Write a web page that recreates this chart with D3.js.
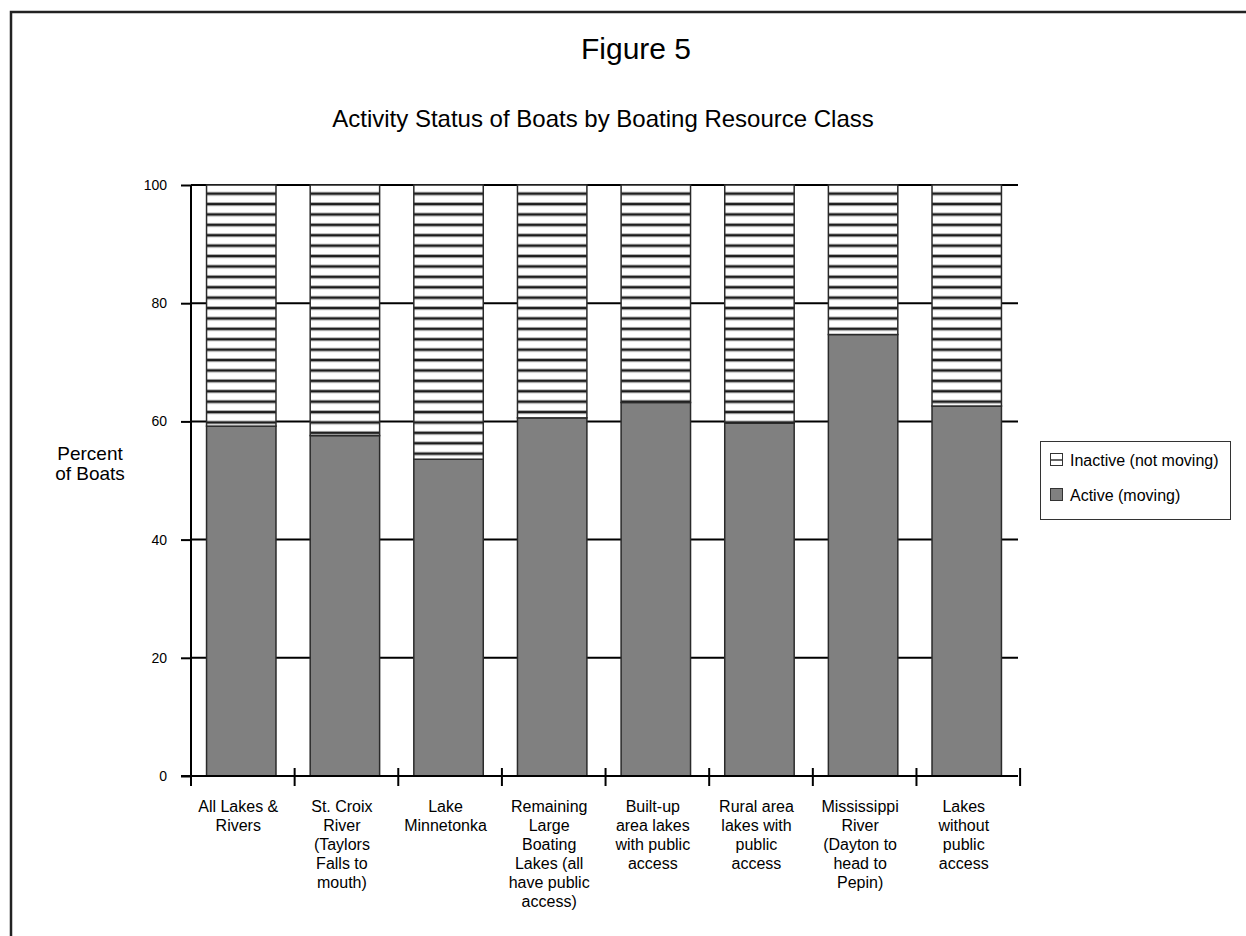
<!DOCTYPE html>
<html>
<head>
<meta charset="utf-8">
<script src="https://cdn.jsdelivr.net/npm/d3@7"></script>
<style>
  html, body { margin: 0; padding: 0; background: #fff; }
  svg { display: block; font-family: "Liberation Sans", Arial, Helvetica, sans-serif; }
</style>
</head>
<body>
<svg id="chart" width="1246" height="936"></svg>
<script>
// Resource classes (each label split into its printed lines)
const categories = [
  ["All Lakes &", "Rivers"],
  ["St. Croix", "River", "(Taylors", "Falls to", "mouth)"],
  ["Lake", "Minnetonka"],
  ["Remaining", "Large", "Boating", "Lakes (all", "have public", "access)"],
  ["Built-up", "area lakes", "with public", "access"],
  ["Rural area", "lakes with", "public", "access"],
  ["Mississippi", "River", "(Dayton to", "head to", "Pepin)"],
  ["Lakes", "without", "public", "access"]
];
// Percent of boats moving in each class
const activeValues = [59.2, 57.6, 53.6, 60.6, 63.2, 59.7, 74.7, 62.6];
// Percent of boats not moving
const inactiveValues = [40.8, 42.4, 46.4, 39.4, 36.8, 40.3, 25.3, 37.4];
const yTicks = [0, 20, 40, 60, 80, 100];
const seriesNames = ["Inactive (not moving)", "Active (moving)"];

const svg = d3.select("#chart");

// Outer frame
svg.append("rect")
  .attr("x", 11).attr("y", 12).attr("width", 1300).attr("height", 1000)
  .attr("fill", "none").attr("stroke", "#222").attr("stroke-width", 2.5);

// Horizontal hatch for the inactive segments
const defs = svg.append("defs");
const hatch = defs.append("pattern")
  .attr("id", "hatch").attr("patternUnits", "userSpaceOnUse")
  .attr("x", 0).attr("y", 181.3).attr("width", 8).attr("height", 10.4);
hatch.append("rect").attr("width", 8).attr("height", 10.4).attr("fill", "#fff");
hatch.append("rect").attr("y", 0).attr("width", 8).attr("height", 4).attr("fill", "#a8a8a8");
hatch.append("rect").attr("y", 1).attr("width", 8).attr("height", 2).attr("fill", "#1a1a1a");

const x = d3.scaleBand()
  .domain(d3.range(categories.length))
  .range([191, 1017])
  .paddingInner(0.33)
  .paddingOuter(0.15);

const y = d3.scaleLinear().domain([0, 100]).range([776, 185]);

// Titles
svg.append("text").attr("x", 636).attr("y", 59).attr("text-anchor", "middle")
  .attr("font-size", 30).attr("fill", "#000").text("Figure 5");
svg.append("text").attr("x", 603).attr("y", 127).attr("text-anchor", "middle")
  .attr("font-size", 24).attr("fill", "#000").text("Activity Status of Boats by Boating Resource Class");

// Gridlines
svg.append("g").selectAll("line")
  .data(yTicks.filter(d => d > 0))
  .join("line")
  .attr("x1", 191).attr("x2", 1018)
  .attr("y1", d => y(d)).attr("y2", d => y(d))
  .attr("stroke", "#000").attr("stroke-width", 2);

// Y axis
const yAxis = svg.append("g")
  .attr("transform", "translate(191,0)")
  .call(d3.axisLeft(y).tickValues(yTicks).tickSize(10).tickPadding(14));
yAxis.select(".domain").attr("stroke", "#000").attr("stroke-width", 2)
  .attr("d", `M0,${y(100)}V786`);
yAxis.selectAll(".tick line").attr("stroke", "#000").attr("stroke-width", 2);
yAxis.selectAll(".tick text").attr("font-size", 14).attr("fill", "#000")
  .attr("font-family", "Liberation Sans, Arial, sans-serif");

// Y axis title
const yTitle = svg.append("text").attr("text-anchor", "middle")
  .attr("font-size", 19).attr("fill", "#000");
yTitle.append("tspan").attr("x", 90).attr("y", 460).text("Percent");
yTitle.append("tspan").attr("x", 90).attr("y", 480).text("of Boats");

// Bars: active at the bottom, inactive stacked above
const bars = svg.append("g");
bars.selectAll("rect.active")
  .data(activeValues)
  .join("rect").attr("class", "active")
  .attr("x", (d, i) => x(i)).attr("width", x.bandwidth())
  .attr("y", d => y(d)).attr("height", d => y(0) - y(d))
  .attr("fill", "#808080").attr("stroke", "#2a2a2a").attr("stroke-width", 1.5);
bars.selectAll("rect.inactive")
  .data(inactiveValues)
  .join("rect").attr("class", "inactive")
  .attr("x", (d, i) => x(i)).attr("width", x.bandwidth())
  .attr("y", (d, i) => y(activeValues[i] + d)).attr("height", (d, i) => y(activeValues[i]) - y(activeValues[i] + d))
  .attr("fill", "url(#hatch)").attr("stroke", "#2a2a2a").attr("stroke-width", 1.5);

// X axis line and category separators
svg.append("line").attr("x1", 181).attr("x2", 1018)
  .attr("y1", y(0)).attr("y2", y(0)).attr("stroke", "#000").attr("stroke-width", 2);
const boundaries = d3.range(categories.length + 1).map(i => x.range()[0] + i * x.step());
svg.append("g").selectAll("line")
  .data(boundaries)
  .join("line")
  .attr("x1", d => d).attr("x2", d => d)
  .attr("y1", y(0) - 8).attr("y2", y(0) + 10)
  .attr("stroke", "#000").attr("stroke-width", 2);

// Category labels
const labels = svg.append("g").selectAll("text")
  .data(categories)
  .join("text")
  .attr("text-anchor", "middle").attr("font-size", 16).attr("fill", "#000");
labels.each(function(lines, i) {
  const t = d3.select(this);
  lines.forEach((ln, k) => {
    t.append("tspan").attr("x", x(i) + x.bandwidth() / 2 - 3).attr("y", 812 + k * 19).text(ln);
  });
});

// Legend
const legend = svg.append("g");
legend.append("rect").attr("x", 1040.5).attr("y", 441.5).attr("width", 190).attr("height", 78)
  .attr("fill", "#fff").attr("stroke", "#333").attr("stroke-width", 1);
seriesNames.forEach((name, k) => {
  const cy = 460 + k * 35;
  legend.append("rect").attr("x", 1050.5).attr("y", cy - 6.5).attr("width", 12).attr("height", 12)
    .attr("fill", k === 0 ? "#fff" : "#808080").attr("stroke", "#333").attr("stroke-width", 1);
  if (k === 0) {
    legend.append("line").attr("x1", 1050.5).attr("x2", 1062.5).attr("y1", cy).attr("y2", cy)
      .attr("stroke", "#333").attr("stroke-width", 1.5);
  }
  legend.append("text").attr("x", 1070).attr("y", cy + 6).attr("font-size", 16).attr("fill", "#000").text(name);
});
</script>
</body>
</html>
